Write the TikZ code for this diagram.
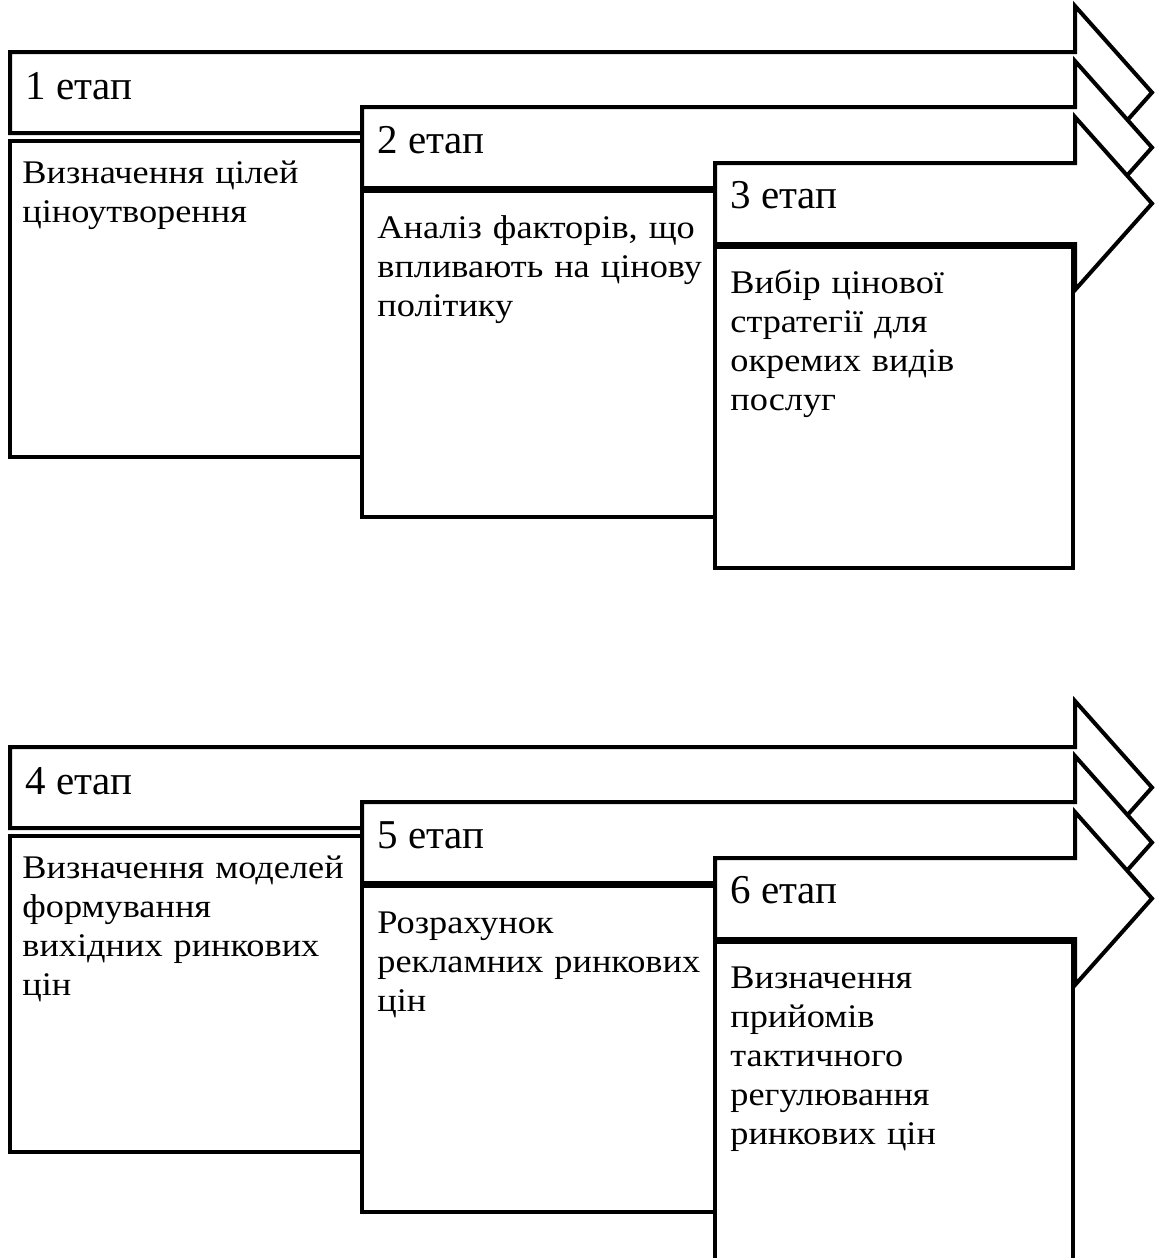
\documentclass[tikz,border=0pt]{standalone}
\usepackage{fontspec}
\setmainfont{Liberation Serif}
\newfontfamily\boxfont[FakeStretch=1.1]{Liberation Serif}
\usetikzlibrary{positioning}
\newcommand{\stagearrow}[2]{%
  \draw[stagearrow] (#1,#2) -- (1075,#2) -- (1075,#2-46) -- (1152,#2+40.5)
    -- (1075,#2+127) -- (1075,#2+81) -- (#1,#2+81) -- cycle;}

\begin{document}
\begin{tikzpicture}[x=0.5pt, y=-0.5pt,
    stagearrow/.style={draw, fill=white, line width=2pt, line join=miter},
    stagebox/.style={draw, fill=white, line width=2.2pt},
    stagelabel/.style={anchor=base west, inner sep=0pt, font=\fontsize{20.5}{24}\selectfont},
    boxtext/.style={anchor=base west, inner sep=0pt, text width=172pt, align=left,
      font=\boxfont\fontsize{16.5}{19.5}\selectfont}]
        \useasboundingbox (0,0) rectangle (1157,1258);
        % first row
        \stagearrow{10}{52}
        \node[stagelabel] (l1) at (25,99) {1 етап};
        \draw[stagebox] (10,141) rectangle (362,457);
        \node[boxtext] (t1) at (22,183) {Визначення цілей\\ціноутворення};
        \stagearrow{362}{107}
        \node[stagelabel] (l2) at (377,153) {2 етап};
        \draw[stagebox] (362,191) rectangle (715,517);
        \node[boxtext] (t2) at (377,238) {Аналіз факторів, що\\впливають на цінову\\політику};
        \stagearrow{715}{163}
        \node[stagelabel] (l3) at (730,208) {3 етап};
        \draw[stagebox] (715,247) rectangle (1073,568);
        \node[boxtext] (t3) at (730,293) {Вибір цінової\\стратегії для\\окремих видів\\послуг};
        % second row
        \stagearrow{10}{747}
        \node[stagelabel] (l4) at (25,794) {4 етап};
        \draw[stagebox] (10,836) rectangle (362,1152);
        \node[boxtext] (t4) at (22,878) {Визначення моделей\\формування\\вихідних ринкових\\цін};
        \stagearrow{362}{802}
        \node[stagelabel] (l5) at (377,848) {5 етап};
        \draw[stagebox] (362,886) rectangle (715,1212);
        \node[boxtext] (t5) at (377,933) {Розрахунок\\рекламних ринкових\\цін};
        \stagearrow{715}{858}
        \node[stagelabel] (l6) at (730,903) {6 етап};
        \draw[stagebox] (715,942) rectangle (1073,1263);
        \node[boxtext] (t6) at (730,988) {Визначення\\прийомів\\тактичного\\регулювання\\ринкових цін};
\end{tikzpicture}
\end{document}
